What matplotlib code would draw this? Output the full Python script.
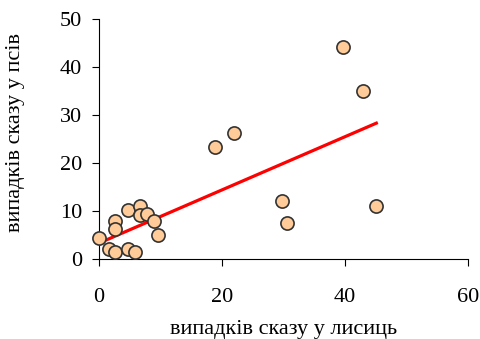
import numpy as np
import matplotlib.pyplot as plt

# data
fox = [0, 1.7, 2.7, 2.6, 2.6, 4.7, 4.8, 5.9, 6.7, 6.7, 7.9, 8.9, 9.6,
       18.8, 21.9, 29.8, 30.6, 39.7, 42.9, 45.0]
dog = [4.3, 2.1, 1.4, 8.0, 6.2, 10.2, 2.1, 1.4, 11.1, 9.2, 9.4, 8.0, 5.1,
       23.3, 26.3, 12.1, 7.4, 44.2, 35.1, 11.0]
# trend line as drawn in the original
trend_x = [0, 45.1]
trend_y = [3.3, 28.3]
xticks = [0, 20, 40, 60]
yticks = [0, 10, 20, 30, 40, 50]

plt.rcParams['font.family'] = ['Liberation Serif', 'DejaVu Serif']

fig = plt.figure(figsize=(4.8, 3.39), dpi=100)
ax = fig.add_axes([0.206, 0.236, 0.769, 0.708])

ax.plot(trend_x, trend_y, color='red', lw=2.3, zorder=3)

ax.scatter(fox, dog, s=90, facecolor='#FFCC99', edgecolor='#333333',
           linewidth=1.2, zorder=4, clip_on=False)

ax.set_xlim(0, 60)
ax.set_ylim(0, 50)
ax.set_xticks(xticks)
ax.set_yticks(yticks)
ax.spines['top'].set_visible(False)
ax.spines['right'].set_visible(False)
ax.tick_params(axis='x', length=5, pad=16, labelsize=16)
ax.tick_params(axis='y', length=5, pad=7, labelsize=16)

ax.set_xlabel('випадків сказу у лисиць', fontsize=16, labelpad=9)
ax.set_ylabel('випадків сказу у псів', fontsize=16)
ax.yaxis.set_label_coords(-0.2, 0.527)

fig.savefig('out.png', dpi=100)
